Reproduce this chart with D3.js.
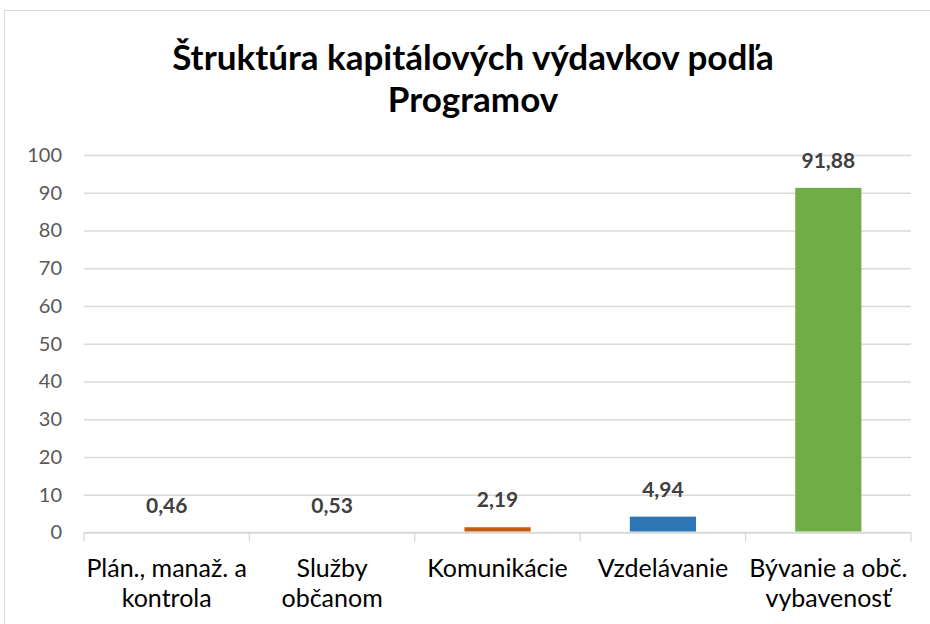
<!DOCTYPE html>
<html>
<head>
<meta charset="utf-8">
<script src="https://cdn.jsdelivr.net/npm/d3@7"></script>
<style>
  html, body { margin: 0; padding: 0; background: #fff; }
  svg { display: block; }
</style>
</head>
<body>
<svg id="chart" width="930" height="624"></svg>
<script>
const categories = [["Plán., manaž. a", "kontrola"], ["Služby", "občanom"], ["Komunikácie"], ["Vzdelávanie"], ["Bývanie a obč.", "vybavenosť"]];
const barValues = [0, 0, 1.4, 4.2, 91.3];
const labelValues = [0.46, 0.53, 2.19, 4.94, 91.88];
const barColors = ["#4472C4", "#A5A5A5", "#C55A11", "#2E75B6", "#70AD47"];
const yTicks = [0, 10, 20, 30, 40, 50, 60, 70, 80, 90, 100];
const titleLines = ["Štruktúra kapitálových výdavkov podľa", "Programov"];

const svg = d3.select("#chart");
const font = "Lato, 'Open Sans', sans-serif";

// chart area border
svg.append("rect").attr("x", 4.5).attr("y", 10.5).attr("width", 940).attr("height", 640)
  .attr("fill", "#fff").attr("stroke", "#D9D9D9").attr("stroke-width", 1);

const plot = { left: 84, right: 911, top: 155, bottom: 532.5 };

const x = d3.scaleBand().domain(d3.range(categories.length)).range([plot.left, plot.right]).padding(0);
const y = d3.scaleLinear().domain([0, 100]).range([plot.bottom, plot.top]);

// title
const title = svg.append("text").attr("text-anchor", "middle")
  .attr("font-family", font).attr("font-weight", "bold").attr("font-size", 35).attr("fill", "#000");
titleLines.forEach((t, i) => {
  title.append("tspan").attr("x", 473).attr("y", 70 + i * 42).text(t);
});

// gridlines
const yAxis = d3.axisLeft(y).tickValues(yTicks).tickSize(-(plot.right - plot.left)).tickPadding(22).tickFormat(d3.format("d"));
const gy = svg.append("g").attr("transform", `translate(${plot.left},0)`).call(yAxis);
gy.select(".domain").remove();
gy.selectAll(".tick line").attr("stroke", "#D9D9D9").attr("stroke-width", 1.3);
gy.selectAll(".tick text").attr("font-family", font).attr("font-size", 20).attr("fill", "#595959");

// x axis with boundary ticks
const gx = svg.append("g");
gx.append("line").attr("x1", plot.left).attr("x2", plot.right).attr("y1", y(0)).attr("y2", y(0))
  .attr("stroke", "#D9D9D9").attr("stroke-width", 1.3);
const bounds = d3.range(categories.length + 1).map(i => i < categories.length ? x(i) : x(categories.length - 1) + x.bandwidth());
gx.selectAll("line.tk").data(bounds).join("line").attr("class", "tk")
  .attr("x1", d => d).attr("x2", d => d).attr("y1", y(0)).attr("y2", y(0) + 9)
  .attr("stroke", "#D9D9D9").attr("stroke-width", 1.3);

// category labels
const cl = svg.append("g").selectAll("text").data(categories).join("text")
  .attr("text-anchor", "middle").attr("font-family", font).attr("font-size", 25).attr("fill", "#000");
cl.each(function(lines, i) {
  const t = d3.select(this);
  lines.forEach((ln, j) => {
    t.append("tspan").attr("x", x(i) + x.bandwidth() / 2).attr("y", 577 + j * 30).text(ln);
  });
});

// bars
const bw = x.bandwidth() * 0.4;
svg.append("g").selectAll("rect").data(barValues).join("rect")
  .attr("x", (d, i) => x(i) + (x.bandwidth() - bw) / 2)
  .attr("y", d => y(d))
  .attr("width", bw)
  .attr("height", d => Math.max(0, y(0) - y(d) - 1))
  .attr("fill", (d, i) => barColors[i]);

// data labels
const fmt = v => d3.format(".2f")(v).replace(".", ",");
svg.append("g").selectAll("text").data(labelValues).join("text")
  .attr("text-anchor", "middle").attr("font-family", font).attr("font-weight", "bold")
  .attr("font-size", 21).attr("fill", "#404040")
  .attr("x", (d, i) => x(i) + x.bandwidth() / 2)
  .attr("y", (d, i) => y(barValues[i]) - 20)
  .text(fmt);
</script>
</body>
</html>
